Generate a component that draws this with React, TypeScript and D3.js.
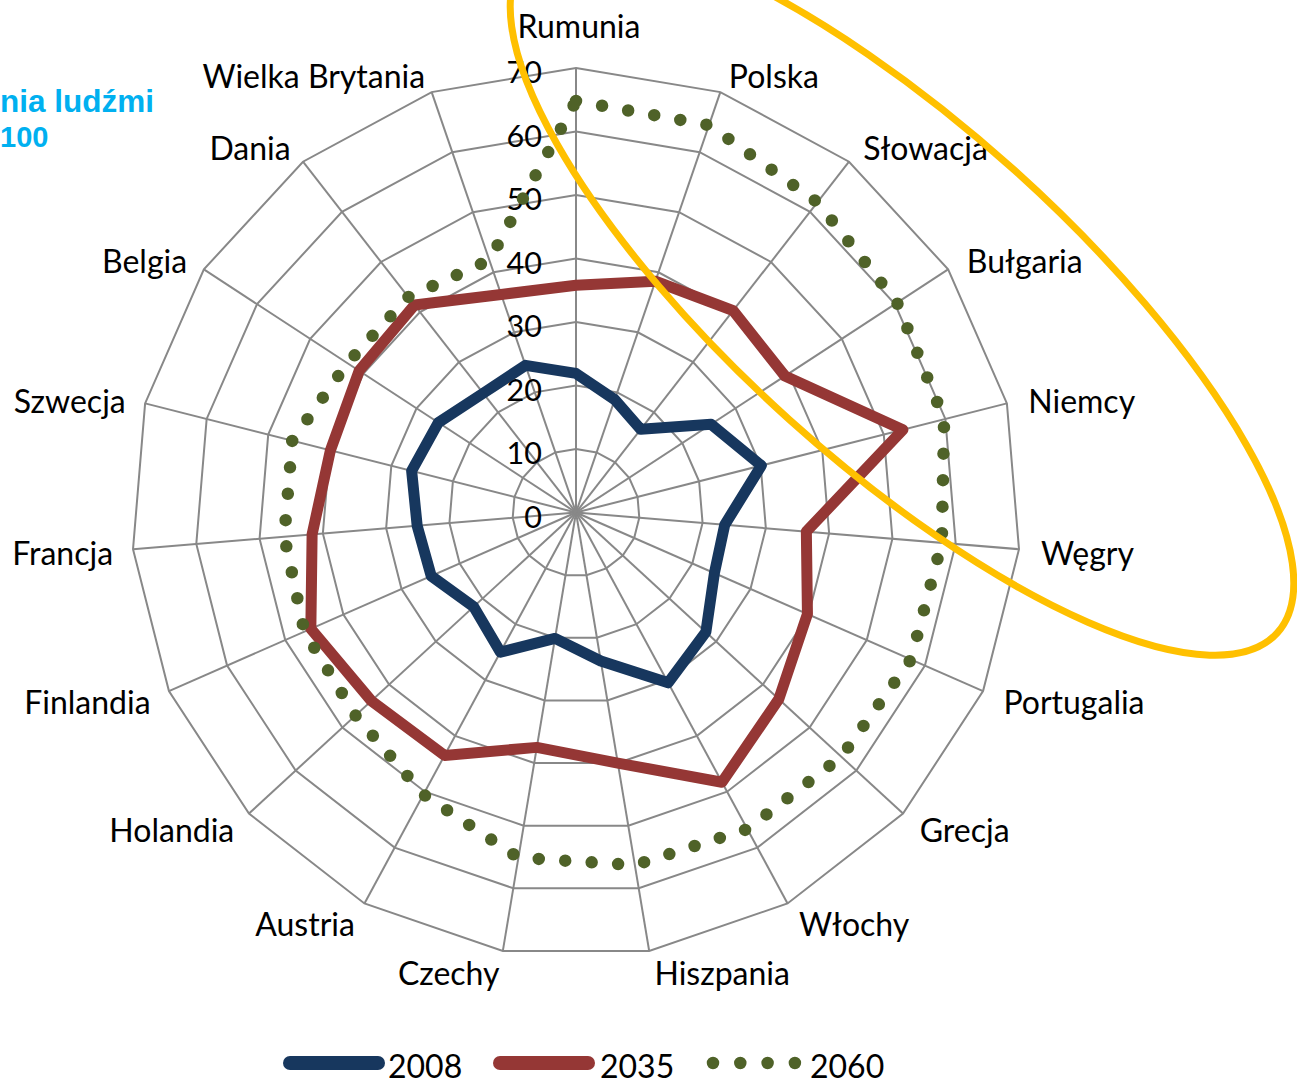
import React, { useEffect } from "react";
import * as d3 from "d3";

const categories = ["Rumunia", "Polska", "Słowacja", "Bułgaria", "Niemcy", "Węgry", "Portugalia", "Grecja", "Włochy", "Hiszpania", "Czechy", "Austria", "Holandia", "Finlandia", "Francja", "Szwecja", "Belgia", "Dania", "Wielka Brytania"];
const values2008 = [21.9, 18.8, 16.6, 25.4, 30.1, 23.5, 23.8, 27.8, 30.5, 23.7, 20.1, 25.0, 21.9, 24.9, 25.1, 26.7, 25.9, 23.8, 24.5];
const values2035 = [35.8, 38.5, 40.3, 39.3, 53.1, 36.4, 39.8, 43.4, 48.3, 40.0, 37.5, 43.5, 43.8, 45.6, 41.7, 39.9, 40.8, 41.4, 36.3];
const values2060 = [64.8, 64.5, 61.9, 60.4, 59.8, 57.8, 57.6, 56.8, 56.7, 56.3, 55.1, 50.5, 47.2, 46.7, 46.1, 46.1, 43.0, 43.0, 42.0];
const tickValues = [0, 10, 20, 30, 40, 50, 60, 70];
const seriesNames = ["2008", "2035", "2060"];
const titleLines = ["nia ludźmi", "100"];

const W = 1297, H = 1088;
const cx = 576, cy = 512.5, R = 444.5;
const FONT = "Lato, 'Open Sans', sans-serif";

export default function App() {
  useEffect(() => {
    document.body.style.margin = "0";
  }, []);

  const n = categories.length;
  const r = d3.scaleLinear().domain([0, 70]).range([0, R]);
  const ang = (i: number) => (i * 2 * Math.PI) / n;
  const radial = d3
    .lineRadial<number>()
    .angle((_, i) => ang(i))
    .radius((d) => r(d))
    .curve(d3.curveLinearClosed);

  const rings = tickValues.filter((t) => t > 0).map((t) => radial(categories.map(() => t)) as string);

  const series = [
    { name: seriesNames[0], vals: values2008, color: "#17375E", dotted: false },
    { name: seriesNames[1], vals: values2035, color: "#953735", dotted: false },
    { name: seriesNames[2], vals: values2060, color: "#4F6228", dotted: true },
  ];

  const labelR = R + 20;

  // ellipse annotation
  const ell = { x: 902, y: 295, rx: 505, ry: 168, rot: 42 };

  return (
    <svg width={W} height={H} style={{ position: "absolute", left: 0, top: 0, background: "#fff" }} xmlns="http://www.w3.org/2000/svg">
      <rect x={0} y={0} width={W} height={H} fill="#fff" />
      {/* title fragment */}
      <g fontFamily="'Liberation Sans', Arial, sans-serif" fontWeight="bold" fill="#00B0F0">
        <text x={0} y={111.5} fontSize={31.5}>{titleLines[0]}</text>
        <text x={0} y={146.5} fontSize={29}>{titleLines[1]}</text>
      </g>
      <g transform={`translate(${cx},${cy})`}>
        {rings.map((d, i) => (
          <path key={i} d={d} fill="none" stroke="#888" strokeWidth={2} />
        ))}
        {categories.map((c, i) => {
          const a = ang(i);
          return (
            <line key={c} x1={0} y1={0} x2={R * Math.sin(a)} y2={-R * Math.cos(a)} stroke="#888" strokeWidth={2} />
          );
        })}
        {tickValues.map((t) => (
          <text key={t} x={-34} y={-r(t) + 3} textAnchor="end" dominantBaseline="central" fontFamily={FONT} fontSize={30.5} fill="#000">
            {t}
          </text>
        ))}
        {categories.map((c, i) => {
          const a = ang(i);
          const sx = Math.sin(a), sy = -Math.cos(a);
          const px = labelR * sx, py = labelR * sy;
          if (Math.abs(sx) < 0.05) {
            return (
              <text key={c} x={px + 3} y={py - 10} textAnchor="middle" fontFamily={FONT} fontSize={32} fill="#000">
                {c}
              </text>
            );
          }
          return (
            <text key={c} x={px + (sx > 0 ? 2 : 0)} y={py + 2} textAnchor={sx > 0 ? "start" : "end"} dominantBaseline="central" fontFamily={FONT} fontSize={32} fill="#000">
              {c}
            </text>
          );
        })}
        {series.map((s) => (
          <path
            key={s.name}
            d={radial(s.vals) as string}
            fill="none"
            stroke={s.color}
            strokeWidth={s.dotted ? 12.5 : 11}
            strokeLinejoin="round"
            strokeLinecap="round"
            strokeDasharray={s.dotted ? "0 26.5" : undefined}
          />
        ))}
      </g>
      {/* legend */}
      <g fontFamily={FONT} fontSize={32} fill="#000">
        <line x1={290} y1={1063} x2={378} y2={1063} stroke={series[0].color} strokeWidth={14} strokeLinecap="round" />
        <text x={388} y={1065} dominantBaseline="central">{series[0].name}</text>
        <line x1={500} y1={1063} x2={588} y2={1063} stroke={series[1].color} strokeWidth={14} strokeLinecap="round" />
        <text x={600} y={1065} dominantBaseline="central">{series[1].name}</text>
        <line x1={713} y1={1063} x2={796} y2={1063} stroke={series[2].color} strokeWidth={12.5} strokeLinecap="round" strokeDasharray="0 27.3" />
        <text x={810} y={1065} dominantBaseline="central">{series[2].name}</text>
      </g>
      <ellipse cx={ell.x} cy={ell.y} rx={ell.rx} ry={ell.ry} transform={`rotate(${ell.rot} ${ell.x} ${ell.y})`} fill="none" stroke="#FFC000" strokeWidth={7} />
    </svg>
  );
}
